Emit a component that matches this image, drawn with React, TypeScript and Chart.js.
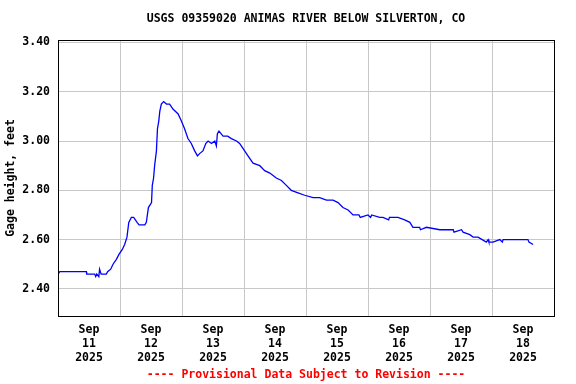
import React, { useEffect, useRef } from "react";
import { Chart, registerables } from "chart.js";

Chart.register(...registerables);

const titleText = "USGS 09359020 ANIMAS RIVER BELOW SILVERTON, CO";
const footerText = "---- Provisional Data Subject to Revision ----";
const yAxisTitle = "Gage height, feet";
const monthLabel = "Sep";
const yearLabel = "2025";
const dayLabels = ["11", "12", "13", "14", "15", "16", "17", "18"];
const xTickHours = [0, 12, 24, 36, 48, 60, 72, 84, 96, 108, 120, 132, 144, 156, 168, 180, 192];
const yTicks = [2.4, 2.6, 2.8, 3.0, 3.2, 3.4];

// hours since Sep 11 00:00
const hours = [
  0.0, 0.7, 11.0, 11.1, 14.2, 14.6, 15.0, 15.8, 16.1, 16.7, 18.7, 19.2, 20.4, 21.3, 22.6, 23.6,
  24.9, 25.8, 26.7, 27.4, 28.4, 29.3, 30.6, 31.4, 33.6, 34.2, 34.6, 35.0, 36.2, 36.5, 37.0, 37.4,
  38.1, 38.5, 39.0, 39.4, 40.0, 40.9, 42.0, 43.2, 44.5, 46.5, 47.8, 49.0, 50.3, 51.6, 52.9, 54.0,
  54.9, 56.1, 57.2, 58.1, 59.4, 60.7, 61.3, 61.7, 62.3, 63.9, 65.7, 67.1, 69.1, 70.3, 71.6, 72.9,
  74.2, 75.5, 78.1, 80.0, 82.0, 84.5, 86.5, 88.4, 90.3, 92.9, 95.5, 98.7, 101.3, 103.9, 106.5, 108.4,
  110.3, 112.3, 114.2, 116.5, 117.0, 120.0, 121.0, 121.4, 124.5, 125.8, 128.0, 128.3, 131.6, 134.2, 136.2, 137.4,
  140.0, 140.3, 142.6, 147.8, 153.0, 153.3, 156.2, 156.8, 159.4, 160.7, 162.6, 165.8, 166.5, 166.8, 168.4, 171.0,
  172.0, 172.3, 175.5, 181.9, 182.3, 183.9,
];
const stage = [
  2.46, 2.47, 2.47, 2.46, 2.46, 2.45, 2.46, 2.45, 2.48, 2.46, 2.46, 2.47, 2.48, 2.50, 2.52, 2.54,
  2.56, 2.58, 2.61, 2.67, 2.69, 2.69, 2.67, 2.66, 2.66, 2.67, 2.70, 2.73, 2.75, 2.82, 2.85, 2.90,
  2.96, 3.05, 3.08, 3.12, 3.15, 3.16, 3.15, 3.15, 3.13, 3.11, 3.08, 3.05, 3.01, 2.99, 2.96, 2.94,
  2.95, 2.96, 2.99, 3.00, 2.99, 3.00, 2.98, 3.03, 3.04, 3.02, 3.02, 3.01, 3.00, 2.99, 2.97, 2.95,
  2.93, 2.91, 2.90, 2.88, 2.87, 2.85, 2.84, 2.82, 2.80, 2.79, 2.78, 2.77, 2.77, 2.76, 2.76, 2.75,
  2.73, 2.72, 2.70, 2.70, 2.69, 2.70, 2.69, 2.70, 2.69, 2.69, 2.68, 2.69, 2.69, 2.68, 2.67, 2.65,
  2.65, 2.64, 2.65, 2.64, 2.64, 2.63, 2.64, 2.63, 2.62, 2.61, 2.61, 2.59, 2.60, 2.59, 2.59, 2.60,
  2.59, 2.60, 2.60, 2.60, 2.59, 2.58,
];

const FONT = "'DejaVu Sans Mono', monospace";

export default function App() {
  const ref = useRef<HTMLCanvasElement | null>(null);

  useEffect(() => {
    if (!ref.current) return;
    const textPlugin = {
      id: "usgsText",
      afterDraw(chart: any) {
        const { ctx, chartArea } = chart;
        const cx = (chartArea.left + chartArea.right) / 2;
        ctx.save();
        ctx.strokeStyle = "#000000";
        ctx.lineWidth = 1;
        ctx.strokeRect(
          Math.round(chartArea.left) + 0.5,
          Math.round(chartArea.top) + 0.5,
          Math.round(chartArea.right - chartArea.left),
          Math.round(chartArea.bottom - chartArea.top)
        );
        ctx.font = `bold 11.5px ${FONT}`;
        ctx.textAlign = "center";
        ctx.textBaseline = "middle";
        ctx.fillStyle = "#000000";
        ctx.fillText(titleText, cx, 19);
        ctx.fillStyle = "#ff0000";
        ctx.fillText(footerText, cx, 375);
        ctx.restore();
      },
    };

    const chart = new Chart(ref.current, {
      type: "line",
      data: {
        datasets: [
          {
            data: hours.map((h, i) => ({ x: h, y: stage[i] })),
            borderColor: "#0000ff",
            borderWidth: 1.3,
            pointRadius: 0,
            tension: 0,
            fill: false,
          },
        ],
      },
      options: {
        responsive: false,
        animation: false,
        layout: { padding: { top: 40, right: 22, bottom: 0, left: 0 } },
        plugins: { legend: { display: false }, tooltip: { enabled: false }, title: { display: false } },
        scales: {
          x: {
            type: "linear",
            min: 0,
            max: 192,
            afterBuildTicks: (scale: any) => {
              scale.ticks = xTickHours.map((v) => ({ value: v }));
            },
            afterFit: (scale: any) => {
              scale.height = 68;
            },
            grid: {
              color: (c: any) => (c.tick && c.tick.value % 24 === 0 ? "#c8c8c8" : "rgba(0,0,0,0)"),
              lineWidth: 1,
              drawTicks: false,
            },
            border: { color: "#000000", width: 1 },
            ticks: {
              autoSkip: false,
              maxRotation: 0,
              minRotation: 0,
              padding: 7,
              color: "#000000",
              font: { family: FONT, size: 11.5, weight: "bold", lineHeight: 1.22 },
              callback: (value: any) => {
                const v = Number(value);
                if (v % 24 !== 12) return "";
                return [monthLabel, dayLabels[(v - 12) / 24], yearLabel];
              },
            },
          },
          y: {
            min: 2.29,
            max: 3.41,
            afterBuildTicks: (scale: any) => {
              scale.ticks = yTicks.map((v) => ({ value: v }));
            },
            afterFit: (scale: any) => {
              scale.width = 58;
            },
            grid: { color: "#c8c8c8", lineWidth: 1, drawTicks: false },
            border: { color: "#000000", width: 1 },
            ticks: {
              padding: 8,
              color: "#000000",
              font: { family: FONT, size: 11.5, weight: "bold" },
              callback: (value: any) => Number(value).toFixed(2),
            },
            title: {
              display: true,
              text: yAxisTitle,
              color: "#000000",
              padding: { top: 4, bottom: 0 },
              font: { family: FONT, size: 11.5, weight: "bold", lineHeight: 1.2 },
            },
          },
        },
      },
      plugins: [textPlugin],
    });
    return () => chart.destroy();
  }, []);

  return (
    <div style={{ position: "absolute", left: 0, top: 0, width: 576, height: 384, background: "#ffffff" }}>
      <canvas ref={ref} width={576} height={384} />
    </div>
  );
}
